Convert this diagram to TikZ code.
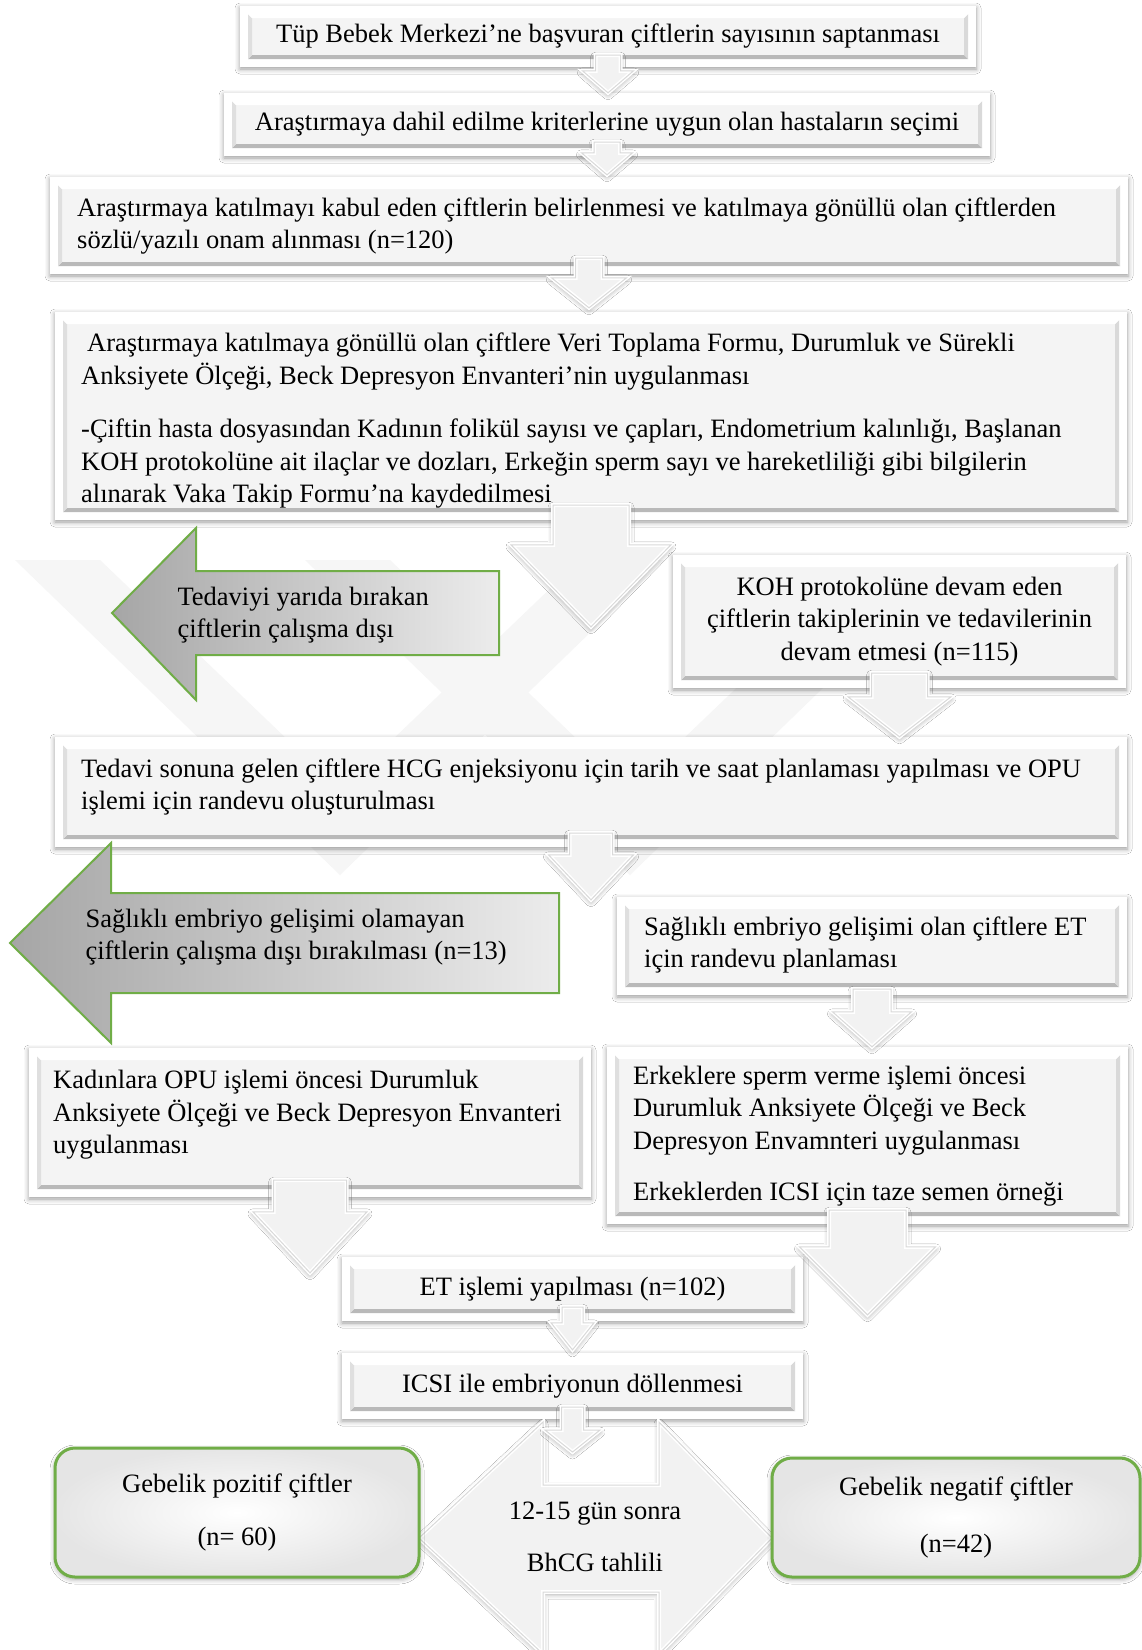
\documentclass[tikz,border=0pt]{standalone}
\usepackage{fontspec}
\setmainfont{Liberation Serif}
\usetikzlibrary{positioning,calc,shadows.blur}
\usepackage{xcolor}

\definecolor{leafgreen}{HTML}{70AD47}
\newcommand{\bodyfont}{\fontsize{26.5}{32.5}\selectfont}

% bevelled face of a step box
\newcommand{\bevelface}{%
  \coordinate (bvA) at (path picture bounding box.south west);
  \coordinate (bvB) at (path picture bounding box.north east);
  \fill[gray!9] ([shift={(8pt,8pt)}]bvA) rectangle ([shift={(-8pt,-8pt)}]bvB);
  \fill[gray!55] let \p1=(bvA), \p2=(bvB) in
    (\x1+8pt,\y1+8pt) -- (\x2-8pt,\y1+8pt) -- (\x2-12pt,\y1+12pt) -- (\x1+12pt,\y1+12pt) -- cycle;
  \fill[gray!30] let \p1=(bvA), \p2=(bvB) in
    (\x2-8pt,\y1+8pt) -- (\x2-8pt,\y2-8pt) -- (\x2-12pt,\y2-12pt) -- (\x2-12pt,\y1+12pt) -- cycle;
  \fill[gray!25] let \p1=(bvA), \p2=(bvB) in
    (\x1+8pt,\y1+8pt) -- (\x1+8pt,\y2-8pt) -- (\x1+12pt,\y2-12pt) -- (\x1+12pt,\y1+12pt) -- cycle;
  \fill[white] let \p1=(bvA), \p2=(bvB) in
    (\x1+8pt,\y2-8pt) -- (\x2-8pt,\y2-8pt) -- (\x2-12pt,\y2-12pt) -- (\x1+12pt,\y2-12pt) -- cycle;
}

% block arrow pointing down: start, end, shaft width, head width, head length
\newcommand{\blockarr}[5]{%
  \path[blockarrow] let \p1=#1, \p2=#2 in
    (\x1-#3pt/2,\y1) -- (\x1+#3pt/2,\y1) -- (\x1+#3pt/2,\y2+#5pt) -- (\x1+#4pt/2,\y2+#5pt)
    -- (\x1,\y2) -- (\x1-#4pt/2,\y2+#5pt) -- (\x1-#3pt/2,\y2+#5pt) -- cycle;
}

\tikzset{
  softshadow/.style={blur shadow={shadow xshift=0pt, shadow yshift=-2pt, shadow blur radius=5pt, shadow opacity=40}},
  stepbox/.style={rectangle, fill=white, softshadow, path picture={\bevelface},
    inner xsep=22pt, inner ysep=4pt, font=\bodyfont, align=center},
  boxtext/.style={font=\bodyfont, align=left, anchor=west, inner sep=0pt},
  blockarrow/.style={fill=gray!10, draw=white, line width=4pt, softshadow,
    postaction={draw=gray!30, line width=1pt}},
  exitarrow/.style={draw=leafgreen, line width=2pt, left color=gray!70, right color=gray!15},
  resultbox/.style={rectangle, rounded corners=20pt, draw=leafgreen, line width=3pt,
    inner color=white, outer color=gray!20, softshadow, font=\bodyfont, align=center},
  labeltext/.style={font=\bodyfont, align=left},
}

\begin{document}
\begin{tikzpicture}[x=1pt, y=-1pt]

\useasboundingbox (0,0) rectangle (1142,1650);
\fill[white] (0,0) rectangle (1142,1650);

% faint watermark
\fill[gray!7] (15,560) -- (100,560) -- (340,790) -- (580,560) -- (665,560) -- (340,875) -- cycle;
\fill[gray!7] (305,560) -- (390,560) -- (630,790) -- (870,560) -- (955,560) -- (630,875) -- cycle;

% main steps
\node[stepbox, minimum width=736pt, minimum height=61pt] (b1) at (608,36.5)
  {Tüp Bebek Merkezi’ne başvuran çiftlerin sayısının saptanması};
\node[stepbox, minimum width=766pt, minimum height=63pt] (b2) at (607,124.5)
  {Araştırmaya dahil edilme kriterlerine uygun olan hastaların seçimi};
\node[stepbox, minimum width=1078pt, minimum height=97pt] (b3) at (589,225.5) {};
\node[boxtext] (t3) at (77,226)
  {Araştırmaya katılmayı kabul eden çiftlerin belirlenmesi ve katılmaya gönüllü olan çiftlerden\\
   sözlü/yazılı onam alınması (n=120)};
\node[stepbox, minimum width=1072pt, minimum height=208pt] (b4) at (591,416) {};
\node[boxtext] (t4) at (81,421)
  {\hspace*{6pt}Araştırmaya katılmaya gönüllü olan çiftlere Veri Toplama Formu, Durumluk ve Sürekli\\
   Anksiyete Ölçeği, Beck Depresyon Envanteri’nin uygulanması\\[21pt]
   -Çiftin hasta dosyasından Kadının folikül sayısı ve çapları, Endometrium kalınlığı, Başlanan\\
   KOH protokolüne ait ilaçlar ve dozları, Erkeğin sperm sayı ve hareketliliği gibi bilgilerin\\
   alınarak Vaka Takip Formu’na kaydedilmesi};
\node[stepbox, minimum width=453pt, minimum height=133pt] (b5) at (899.5,621.5)
  {KOH protokolüne devam eden\\ çiftlerin takiplerinin ve tedavilerinin\\ devam etmesi (n=115)};
\node[stepbox, minimum width=1072pt, minimum height=110pt] (b6) at (591,792) {};
\node[boxtext] (t6) at (81,787)
  {Tedavi sonuna gelen çiftlere HCG enjeksiyonu için tarih ve saat planlaması yapılması ve OPU\\
   işlemi için randevu oluşturulması};
\node[stepbox, minimum width=510pt, minimum height=98pt] (b7) at (872,946) {};
\node[boxtext] (t7) at (644,945)
  {Sağlıklı embriyo gelişimi olan çiftlere ET\\ için randevu planlaması};
\node[stepbox, minimum width=562pt, minimum height=149pt] (b8) at (310,1122.5) {};
\node[boxtext] (t8) at (53,1115)
  {Kadınlara OPU işlemi öncesi Durumluk\\ Anksiyete Ölçeği ve Beck Depresyon Envanteri\\ uygulanması};
\node[stepbox, minimum width=521pt, minimum height=177pt] (b9) at (867.5,1135.5) {};
\node[boxtext] (t9) at (633,1136)
  {Erkeklere sperm verme işlemi öncesi\\ Durumluk Anksiyete Ölçeği ve Beck\\
   Depresyon Envamnteri uygulanması\\[19pt] Erkeklerden ICSI için taze semen örneği};
\node[stepbox, minimum width=461pt, minimum height=64pt] (b10) at (572.5,1289)
  {ET işlemi yapılması (n=102)};
\node[stepbox, minimum width=461pt, minimum height=66pt] (b11) at (572.5,1386)
  {ICSI ile embriyonun döllenmesi};

% drop-out arrows
\draw[exitarrow] (112,613) -- (196,528) -- (196,571) -- (499,571) -- (499,655) -- (196,655) -- (196,700) -- cycle;
\node[labeltext, anchor=west] (ex1) at (174,615) {Tedaviyi yarıda bırakan\\ çiftlerin çalışma dışı};
\draw[exitarrow] (10,943) -- (111,843) -- (111,893) -- (559,893) -- (559,993) -- (111,993) -- (111,1043) -- cycle;
\node[labeltext, anchor=west] (ex2) at (82,937) {Sağlıklı embriyo gelişimi olamayan\\ çiftlerin çalışma dışı bırakılması (n=13)};

% test and results
\path[blockarrow] (419,1538) -- (543,1422) -- (543,1485) -- (659,1485) -- (659,1422) -- (772,1538)
  -- (659,1654) -- (659,1592) -- (543,1592) -- (543,1654) -- cycle;
\node[labeltext, align=center] (chk) at (595,1537) {12-15 gün sonra\\[20pt] BhCG tahlili};
\coordinate (chktop) at (573,1452);
\node[resultbox, minimum width=364pt, minimum height=129pt] (g1) at (237,1512.5)
  {Gebelik pozitif çiftler\\[21pt] (n= 60)};
\node[resultbox, minimum width=368pt, minimum height=119pt] (g2) at (956,1517.5)
  {Gebelik negatif çiftler\\[24pt] (n=42)};

% flow arrows
\blockarr{([yshift=12pt]b1.south)}{(b2.north)}{25}{51}{22}
\blockarr{([yshift=14pt]b2.south)}{([yshift=2pt]b3.north)}{26}{51}{22}
\blockarr{([yshift=16pt]b3.south)}{([yshift=4pt]b4.north)}{27}{75}{30}
\blockarr{([yshift=15pt]b4.south)}{([yshift=110pt]b6.north)}{76}{160}{82}
\blockarr{([yshift=15pt]b5.south)}{(b6.north)}{56}{103}{40}
\blockarr{([yshift=14pt]b6.south)}{([yshift=-3pt]b7.north)}{43}{85}{45}
\blockarr{([yshift=6pt]b7.south)}{(b9.north)}{38}{79}{35}
\blockarr{([yshift=17pt]b8.south)}{([yshift=-16pt]b10.north)}{73}{114}{61}
\blockarr{([yshift=14pt]b9.south)}{([yshift=-58pt]b10.north)}{77}{136}{68}
\blockarr{([yshift=14pt]b10.south)}{([yshift=3pt]b11.north)}{21}{43}{27}
\blockarr{([yshift=12pt]b11.south)}{(chktop)}{22}{55}{22}

\end{tikzpicture}
\end{document}
